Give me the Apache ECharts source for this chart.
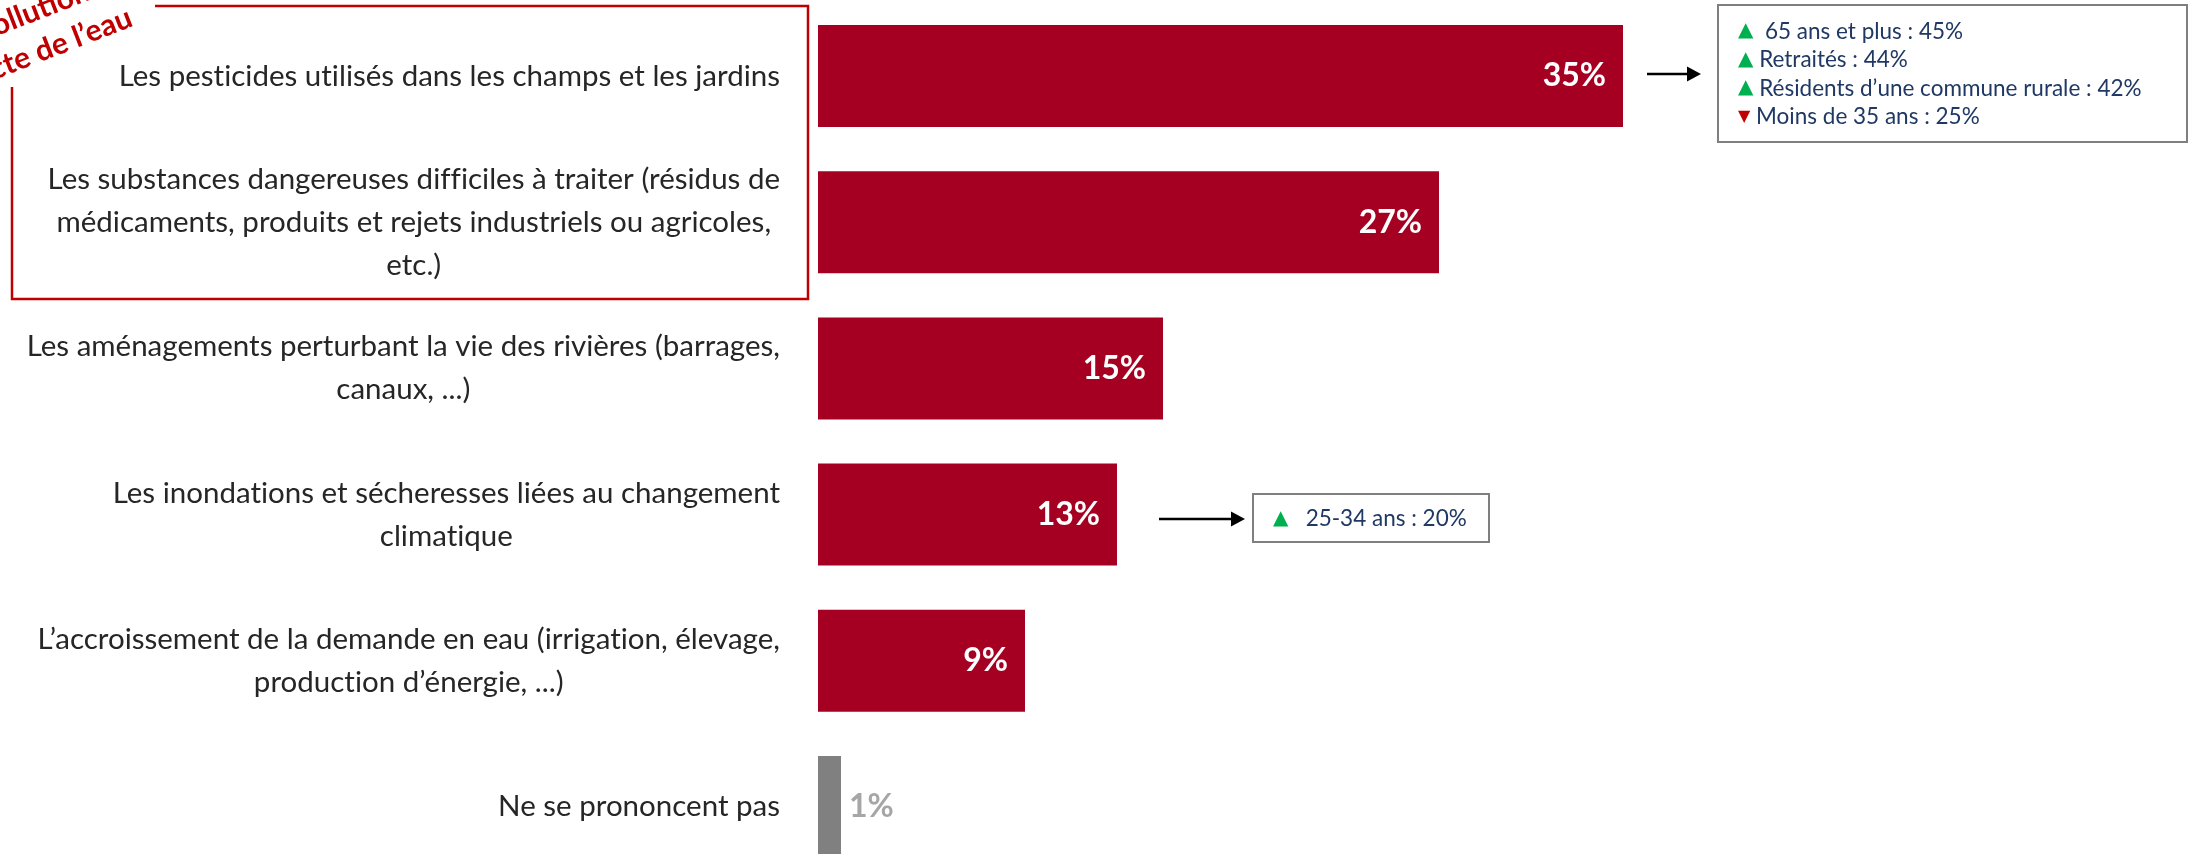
<!DOCTYPE html>
<html lang="fr">
<head>
<meta charset="utf-8">
<title>Enjeux de l'eau</title>
<script src="https://cdn.jsdelivr.net/npm/echarts@6/dist/echarts.min.js"></script>
<style>
  html, body { margin: 0; padding: 0; background: #ffffff; }
  #chart { width: 2189px; height: 854px; }
</style>
</head>
<body>
<div id="chart"></div>
<script>
// Réponses (en %), dans l'ordre d'affichage
const categories = [
  'Les pesticides utilisés dans les champs et les jardins',
  'Les substances dangereuses difficiles à traiter (résidus de\nmédicaments, produits et rejets industriels ou agricoles,\netc.)',
  'Les aménagements perturbant la vie des rivières (barrages,\ncanaux, ...)',
  'Les inondations et sécheresses liées au changement\nclimatique',
  'L’accroissement de la demande en eau (irrigation, élevage,\nproduction d’énergie, ...)',
  'Ne se prononcent pas'
];
const values = [35, 27, 15, 13, 9, 1];
const noAnswerLabel = 'Ne se prononcent pas';

// Écarts significatifs par sous-population
const pesticideNotes = [
  ['up', ' 65 ans et plus : 45%'],
  ['up', 'Retraités : 44%'],
  ['up', 'Résidents d’une commune rurale : 42%'],
  ['down', 'Moins de 35 ans : 25%']
];
const floodNotes = [
  ['up', '  25-34 ans : 20%']
];
const groupTitle = ['Pollution', 'directe de l’eau'];

const RED = '#A50021';
const GREY_BAR = '#808080';
const GREY_LABEL = '#A6A6A6';
const NAVY = '#1F3864';
const FONT = 'Lato, "Open Sans", sans-serif';

// évite les ligatures « ti », « ffi » de la police
const noLig = (s) => s.replace(/([ft])(?=[ift])/g, '$1\u200C');

const seriesData = values.map((v, i) => {
  const isNoAnswer = categories[i] === noAnswerLabel;
  return {
    value: v,
    itemStyle: { color: isNoAnswer ? GREY_BAR : RED },
    label: isNoAnswer
      ? { position: 'right', distance: 8, color: GREY_LABEL }
      : { position: 'insideRight', distance: 17, color: '#ffffff' }
  };
});

function noteText(notes) {
  return notes.map(([dir, txt]) => '{' + dir + '|' + (dir === 'up' ? '▲' : '▼') + '}{t| ' + noLig(txt) + '}').join('\n');
}
const noteRich = {
  up: { fontFamily: '"DejaVu Sans"', fontSize: 20, fill: '#00B050', color: '#00B050' },
  down: { fontFamily: '"DejaVu Sans"', fontSize: 16, fill: '#C00000', color: '#C00000' },
  t: { fontFamily: FONT, fontSize: 22.5, fill: NAVY, color: NAVY }
};

function arrow(x1, x2, y) {
  return [
    { type: 'line', shape: { x1: x1, y1: y, x2: x2 - 12, y2: y }, style: { stroke: '#000000', lineWidth: 2.5 } },
    { type: 'polygon', shape: { points: [[x2 - 14, y - 7.5], [x2, y], [x2 - 14, y + 7.5]] }, style: { fill: '#000000' } }
  ];
}

const chart = echarts.init(document.getElementById('chart'), null, { renderer: 'canvas' });

chart.setOption({
  backgroundColor: '#ffffff',
  animation: false,
  grid: { left: 818, top: 3, width: 1150, height: 877, containLabel: false, outerBoundsMode: 'none' },
  xAxis: {
    type: 'value', min: 0, max: 50,
    show: false
  },
  yAxis: {
    type: 'category',
    data: categories,
    inverse: true,
    axisLine: { show: false },
    axisTick: { show: false },
    splitLine: { show: false },
    axisLabel: {
      interval: 0,
      margin: 38,
      align: 'right',
      formatter: (v) => v.split('\n').map(l => '{c|' + noLig(l) + '}').join('\n'),
      rich: {
        c: { align: 'center', fontFamily: FONT, fontSize: 29.5, color: '#262626', lineHeight: 43 }
      }
    }
  },
  series: [{
    type: 'bar',
    data: seriesData,
    barWidth: 102,
    label: {
      show: true,
      formatter: '{c}%',
      fontFamily: FONT,
      fontWeight: 'bold',
      fontSize: 32
    }
  }],
  graphic: [
    // cadre regroupant les deux items « pollution directe »
    {
      type: 'polyline',
      shape: { points: [[155, 6], [808, 6], [808, 299], [12, 299], [12, 87]] },
      style: { stroke: '#C00000', lineWidth: 2.5, fill: null }
    },
    {
      type: 'group', x: 134, y: 25, rotation: 0.37,
      children: [
        { type: 'text', x: 0, y: 6, style: { text: groupTitle[1], align: 'right', verticalAlign: 'bottom', font: 'bold 30px ' + FONT, fill: '#C00000' } },
        { type: 'text', x: -30, y: -34, style: { text: groupTitle[0], align: 'right', verticalAlign: 'bottom', font: 'bold 30px ' + FONT, fill: '#C00000' } }
      ]
    },
    // encadré pesticides
    ...arrow(1647, 1701, 74),
    {
      type: 'rect',
      shape: { x: 1718, y: 5, width: 469, height: 137 },
      style: { fill: '#ffffff', stroke: '#7F7F7F', lineWidth: 2 }
    },
    {
      type: 'text', x: 1738, y: 17,
      style: { text: noteText(pesticideNotes), rich: noteRich, lineHeight: 28.5, verticalAlign: 'top', align: 'left' }
    },
    // encadré inondations
    ...arrow(1159, 1245, 519),
    {
      type: 'rect',
      shape: { x: 1253, y: 494, width: 236, height: 48 },
      style: { fill: '#ffffff', stroke: '#7F7F7F', lineWidth: 2 }
    },
    {
      type: 'text', x: 1273, y: 519,
      style: { text: noteText(floodNotes), rich: noteRich, verticalAlign: 'middle', align: 'left' }
    }
  ]
});
</script>
</body>
</html>
